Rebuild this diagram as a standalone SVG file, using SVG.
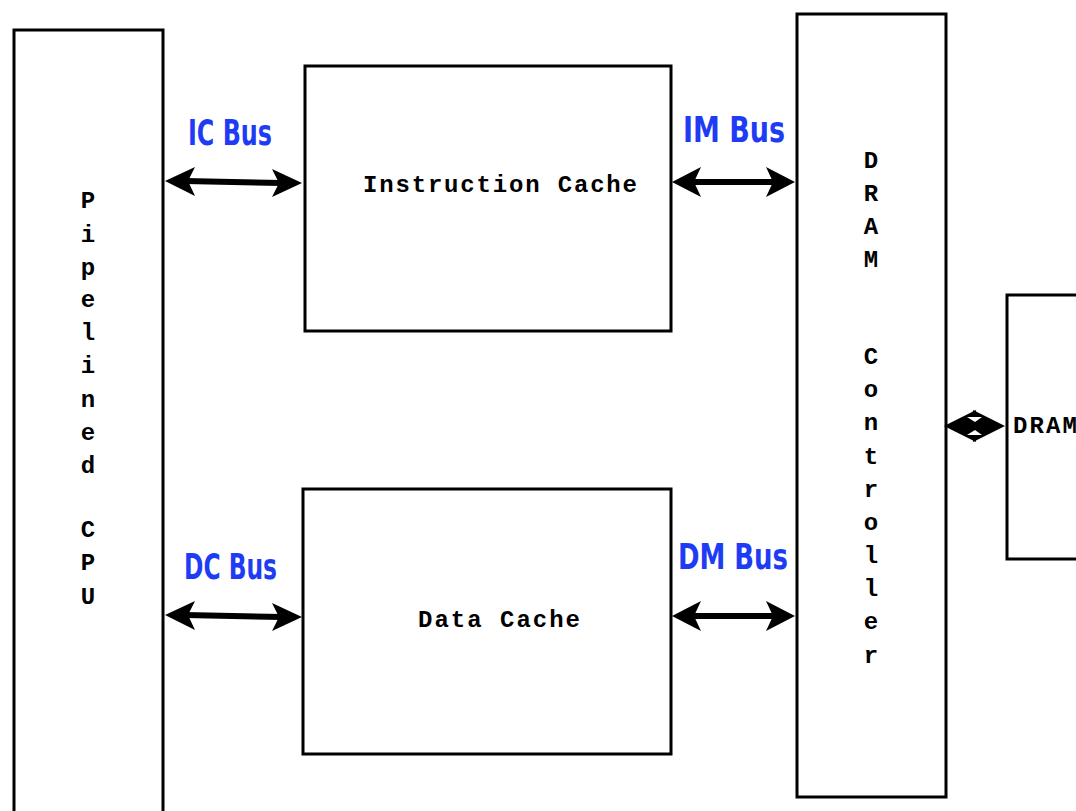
<svg xmlns="http://www.w3.org/2000/svg" width="1076" height="811" viewBox="0 0 1076 811">
<style>
.box{fill:#fff;stroke:#000;stroke-width:3}
.t{font-family:"Liberation Mono","Courier New",monospace;font-weight:bold;font-size:24px;fill:#000}
.v{font-family:"Liberation Mono","Courier New",monospace;font-weight:bold;font-size:24px;fill:#000;text-anchor:middle}
.bus{font-family:"DejaVu Sans Condensed","DejaVu Sans",sans-serif;font-weight:bold;font-size:36px;fill:#1f3cf5}
.sh{stroke:#000;stroke-width:6;fill:none}
.hd{fill:#000}
</style>
<rect width="1076" height="811" fill="#fff"/>
<g id="cpu">
<rect class="box" x="14" y="30" width="149" height="800"/>
<text class="v"><tspan x="88" y="208">P</tspan><tspan x="88" y="242">i</tspan><tspan x="88" y="275">p</tspan><tspan x="88" y="307">e</tspan><tspan x="88" y="340">l</tspan><tspan x="88" y="373">i</tspan><tspan x="88" y="407">n</tspan><tspan x="88" y="440">e</tspan><tspan x="88" y="473">d</tspan><tspan x="88" y="537">C</tspan><tspan x="88" y="570">P</tspan><tspan x="88" y="604">U</tspan></text>
</g>
<g id="icache">
<rect class="box" x="305" y="66" width="366" height="265"/>
<text class="t" x="363" y="192" textLength="274" lengthAdjust="spacing">Instruction Cache</text>
</g>
<g id="dcache">
<rect class="box" x="303" y="489" width="368" height="265"/>
<text class="t" x="418" y="627" textLength="162" lengthAdjust="spacing">Data Cache</text>
</g>
<g id="dramctrl">
<rect class="box" x="797" y="14" width="149" height="783"/>
<text class="v"><tspan x="871" y="168">D</tspan><tspan x="871" y="201">R</tspan><tspan x="871" y="234">A</tspan><tspan x="871" y="267">M</tspan><tspan x="871" y="364">C</tspan><tspan x="871" y="397">o</tspan><tspan x="871" y="430">n</tspan><tspan x="871" y="464">t</tspan><tspan x="871" y="497">r</tspan><tspan x="871" y="530">o</tspan><tspan x="871" y="563">l</tspan><tspan x="871" y="596">l</tspan><tspan x="871" y="629">e</tspan><tspan x="871" y="663">r</tspan></text>
</g>
<g id="dram">
<rect class="box" x="1007" y="295" width="100" height="264"/>
<text class="t" x="1013" y="433" textLength="64" lengthAdjust="spacing">DRAM</text>
</g>
<g id="labels">
<text class="bus" x="188" y="145" textLength="84" lengthAdjust="spacingAndGlyphs">IC Bus</text>
<text class="bus" x="683" y="142" textLength="102" lengthAdjust="spacingAndGlyphs">IM Bus</text>
<text class="bus" x="184" y="579" textLength="93" lengthAdjust="spacingAndGlyphs">DC Bus</text>
<text class="bus" x="678" y="569" textLength="110" lengthAdjust="spacingAndGlyphs">DM Bus</text>
</g>
<g id="connectors">
<line class="sh" x1="185" y1="181" x2="282" y2="183"/>
<polygon class="hd" points="165,181 195,167 188,181 195,196"/>
<polygon class="hd" points="302,183 272,169 279,183 272,197"/>
<line class="sh" x1="692" y1="182" x2="775" y2="182"/>
<polygon class="hd" points="672,182 701,167 694,182 701,197"/>
<polygon class="hd" points="795,182 766,167 773,182 766,197"/>
<line class="sh" x1="185" y1="615" x2="282" y2="617"/>
<polygon class="hd" points="165,615 195,601 188,615 195,630"/>
<polygon class="hd" points="302,617 272,603 279,617 272,631"/>
<line class="sh" x1="692" y1="616" x2="775" y2="616"/>
<polygon class="hd" points="672,616 701,601 694,616 701,631"/>
<polygon class="hd" points="795,616 766,601 773,616 766,631"/>
<polygon class="hd" points="944,426 976,410 976,442"/>
<polygon class="hd" points="1005,426 973,410 973,442"/>
<polygon fill="#fff" points="967,417 982,417 975,422"/>
<polygon fill="#fff" points="967,435 982,435 975,430"/>
</g>
</svg>
